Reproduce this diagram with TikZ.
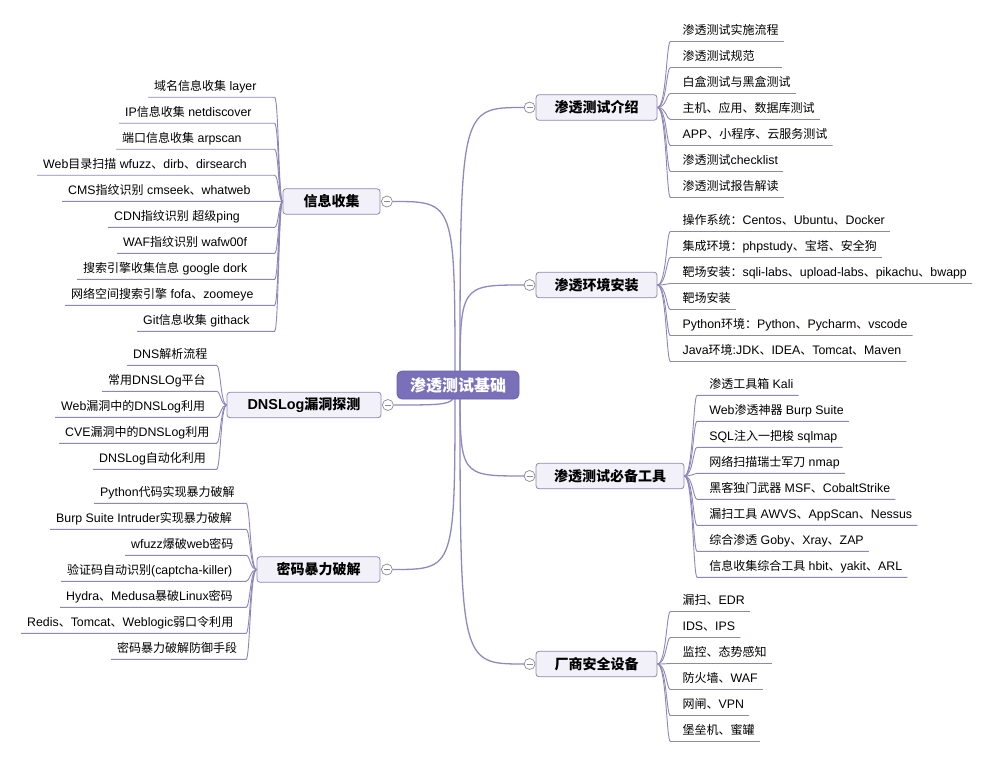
\documentclass[tikz,border=0pt]{standalone}
\usepackage{fontspec}
\setmainfont[Scale=1.03]{Liberation Sans}
\newfontfamily\cjkf{Noto Sans CJK SC}
\newfontfamily\latf[Scale=1.03]{Liberation Sans}
\XeTeXinterchartokenstate=1
\newXeTeXintercharclass\CJKcls
\makeatletter
\@tempcnta="3000
\loop \XeTeXcharclass\@tempcnta=\CJKcls \advance\@tempcnta by 1 \ifnum\@tempcnta<"3040 \repeat
\@tempcnta="4E00
\loop \XeTeXcharclass\@tempcnta=\CJKcls \advance\@tempcnta by 1 \ifnum\@tempcnta<"A000 \repeat
\@tempcnta="FF00
\loop \XeTeXcharclass\@tempcnta=\CJKcls \advance\@tempcnta by 1 \ifnum\@tempcnta<"FFF0 \repeat
\makeatother
\XeTeXinterchartoks 0 \CJKcls = {\cjkf}
\XeTeXinterchartoks 4095 \CJKcls = {\cjkf}
\XeTeXinterchartoks \CJKcls 0 = {\latf}
\XeTeXinterchartoks \CJKcls 4095 = {\latf}
\usetikzlibrary{backgrounds}
\definecolor{rootc}{HTML}{7A70BA}
\definecolor{rootb}{HTML}{6A61A8}
\definecolor{brfill}{HTML}{F2F1F9}
\definecolor{brdraw}{HTML}{8C88B2}
\definecolor{linec}{HTML}{8C87B8}
\definecolor{mainc}{HTML}{8F89C2}
\definecolor{togc}{HTML}{8A8A96}
\tikzset{
  root/.style={draw=rootb, fill=rootc, rounded corners=5pt, line width=0.8pt,
    minimum width=122pt, minimum height=28pt, inner sep=0pt,
    font=\fontsize{16}{18}\selectfont\bfseries, text=white},
  branch/.style={draw=brdraw, fill=brfill, rounded corners=3pt, line width=0.8pt,
    minimum height=25.5pt, inner sep=0pt, font=\fontsize{14}{16}\selectfont\bfseries},
  leaf/.style={inner xsep=0pt, inner ysep=0pt, text height=10pt, text depth=6.5pt,
    font=\fontsize{12}{14}\selectfont},
  lline/.style={draw=linec, line width=0.9pt},
  mainline/.style={draw=mainc, line width=1.3pt},
  tog/.style={circle, draw=togc, fill=white, line width=0.7pt, minimum size=11pt, inner sep=0pt,
    path picture={\draw[togc, line width=0.7pt] ([xshift=2.5pt]path picture bounding box.west) -- ([xshift=-2.5pt]path picture bounding box.east);}}
}
% right leaf: [pad]{name}{branch}{line y}{text}
\newcommand\RL[5][5]{%
  \coordinate (#2-y) at (0,#4);
  \coordinate (#2-k) at (#3-s |- #2-y);
  \node[leaf, anchor=south west] (#2) at ([xshift=16pt]#2-k) {#5};
  \draw[lline] (#3.east) .. controls (#3-s) and (#2-k) .. ([xshift=4pt]#2-k) -- ([xshift=#1pt]#2.south east);
}
% left leaf: {name}{branch}{line y}{text x}{text}
\newcommand\LL[5]{%
  \node[leaf, anchor=south west] (#1) at (#4,#3) {#5};
  \coordinate (#1-k) at (#2-s |- #1.south);
  \draw[lline] (#2.west) .. controls (#2-s) and (#1-k) .. ([xshift=-4pt]#1-k) -- ([xshift=-6pt]#1.south west);
}
\begin{document}
\begin{tikzpicture}[x=1pt, y=-1pt]
\useasboundingbox (0,0) rectangle (1003,762);
% nodes
\node[root] (root) at (458,385) {渗透测试基础};
\node[branch, minimum width=97pt] (info) at (331.5,201.5) {信息收集};
\node[branch, minimum width=154pt] (dns) at (304,405) {DNSLog漏洞探测};
\node[branch, minimum width=123pt] (pwd) at (318.5,569.5) {密码暴力破解};
\node[branch, minimum width=121pt] (intro) at (596.5,107.5) {渗透测试介绍};
\node[branch, minimum width=121pt] (env) at (596.5,285) {渗透环境安装};
\node[branch, minimum width=148pt] (tools) at (610,476) {渗透测试必备工具};
\node[branch, minimum width=121pt] (vendor) at (596.5,664) {厂商安全设备};
% toggles
\node[tog] (tinfo) at ([xshift=6.5pt]info.east) {};
\node[tog] (tdns) at ([xshift=6.5pt]dns.east) {};
\node[tog] (tpwd) at ([xshift=6.5pt]pwd.east) {};
\node[tog] (tintro) at ([xshift=-6pt]intro.west) {};
\node[tog] (tenv) at ([xshift=-6pt]env.west) {};
\node[tog] (ttools) at ([xshift=-6pt]tools.west) {};
\node[tog] (tvendor) at ([xshift=-6pt]vendor.west) {};
% spine coordinates
\coordinate (info-s) at ([xshift=-4pt]info.west);
\coordinate (dns-s) at ([xshift=-6pt]dns.west);
\coordinate (pwd-s) at ([xshift=-6.5pt]pwd.west);
\coordinate (intro-s) at ([xshift=9pt]intro.east);
\coordinate (env-s) at ([xshift=9pt]env.east);
\coordinate (tools-s) at ([xshift=8.7pt]tools.east);
\coordinate (vendor-s) at ([xshift=9pt]vendor.east);
% main connectors
\coordinate (rR) at ([xshift=2pt]root.center);
\coordinate (rL) at ([xshift=-3pt]root.center);
\begin{scope}[on background layer]
\fill[white] (0,0) rectangle (1003,762);
\draw[mainline] (rR) .. controls (rR |- tintro) .. (tintro.west);
\draw[mainline] (rR) .. controls (rR |- tenv) .. (tenv.west);
\draw[mainline] (rR) .. controls (rR |- ttools) .. (ttools.west);
\draw[mainline] (rR) .. controls (rR |- tvendor) .. (tvendor.west);
\draw[mainline] (rL) .. controls (rL |- tinfo) .. (tinfo.east);
\draw[mainline] (rL) .. controls (rL |- tdns) .. (tdns.east);
\draw[mainline] (rL) .. controls (rL |- tpwd) .. (tpwd.east);
\end{scope}
% 信息收集
\LL{a1}{info}{97.3}{154}{域名信息收集 layer}
\LL{a2}{info}{123.3}{125}{IP信息收集 netdiscover}
\LL{a3}{info}{149.3}{122}{端口信息收集 arpscan}
\LL{a4}{info}{175.3}{43}{Web目录扫描 wfuzz、dirb、dirsearch}
\LL{a5}{info}{201.3}{68}{CMS指纹识别 cmseek、whatweb}
\LL{a6}{info}{227.3}{114}{CDN指纹识别 超级ping}
\LL{a7}{info}{253.3}{123}{WAF指纹识别 wafw00f}
\LL{a8}{info}{279.3}{83}{搜索引擎收集信息 google dork}
\LL{a9}{info}{305.3}{71}{网络空间搜索引擎 fofa、zoomeye}
\LL{a10}{info}{331.3}{143}{Git信息收集 githack}
% DNSLog
\LL{d1}{dns}{365.3}{133}{DNS解析流程}
\LL{d2}{dns}{391.3}{108}{常用DNSLOg平台}
\LL{d3}{dns}{417.3}{61}{Web漏洞中的DNSLog利用}
\LL{d4}{dns}{443.3}{65}{CVE漏洞中的DNSLog利用}
\LL{d5}{dns}{469.3}{99}{DNSLog自动化利用}
% 密码暴力破解
\LL{p1}{pwd}{503.3}{100}{Python代码实现暴力破解}
\LL{p2}{pwd}{529.3}{56}{Burp Suite Intruder实现暴力破解}
\LL{p3}{pwd}{555.3}{131}{wfuzz爆破web密码}
\LL{p4}{pwd}{581.3}{67}{验证码自动识别(captcha-killer)}
\LL{p5}{pwd}{607.3}{66}{Hydra、Medusa暴破Linux密码}
\LL{p6}{pwd}{633.3}{27}{Redis、Tomcat、Weblogic弱口令利用}
\LL{p7}{pwd}{659.3}{117}{密码暴力破解防御手段}
% 渗透测试介绍
\RL{i1}{intro}{41.5}{渗透测试实施流程}
\RL[27]{i2}{intro}{67.5}{渗透测试规范}
\RL{i3}{intro}{93.5}{白盒测试与黑盒测试}
\RL{i4}{intro}{119.5}{主机、应用、数据库测试}
\RL{i5}{intro}{145.5}{APP、小程序、云服务测试}
\RL{i6}{intro}{171.5}{渗透测试checklist}
\RL{i7}{intro}{197.5}{渗透测试报告解读}
% 渗透环境安装
\RL{e1}{env}{231.5}{操作系统：Centos、Ubuntu、Docker}
\RL{e2}{env}{257.5}{集成环境：phpstudy、宝塔、安全狗}
\RL{e3}{env}{283.5}{靶场安装：sqli-labs、upload-labs、pikachu、bwapp}
\RL{e4}{env}{309.5}{靶场安装}
\RL{e5}{env}{335.5}{Python环境：Python、Pycharm、vscode}
\RL{e6}{env}{361.5}{Java环境:JDK、IDEA、Tomcat、Maven}
% 渗透测试必备工具
\RL{t1}{tools}{395.3}{渗透工具箱 Kali}
\RL{t2}{tools}{421.3}{Web渗透神器 Burp Suite}
\RL{t3}{tools}{447.3}{SQL注入一把梭 sqlmap}
\RL{t4}{tools}{473.3}{网络扫描瑞士军刀 nmap}
\RL{t5}{tools}{499.3}{黑客独门武器 MSF、CobaltStrike}
\RL{t6}{tools}{525.3}{漏扫工具 AWVS、AppScan、Nessus}
\RL{t7}{tools}{551.3}{综合渗透 Goby、Xray、ZAP}
\RL{t8}{tools}{577.3}{信息收集综合工具 hbit、yakit、ARL}
% 厂商安全设备
\RL{v1}{vendor}{611.5}{漏扫、EDR}
\RL{v2}{vendor}{637.5}{IDS、IPS}
\RL{v3}{vendor}{663.5}{监控、态势感知}
\RL{v4}{vendor}{689.5}{防火墙、WAF}
\RL{v5}{vendor}{715.5}{网闸、VPN}
\RL{v6}{vendor}{741.5}{堡垒机、蜜罐}
\end{tikzpicture}
\end{document}
